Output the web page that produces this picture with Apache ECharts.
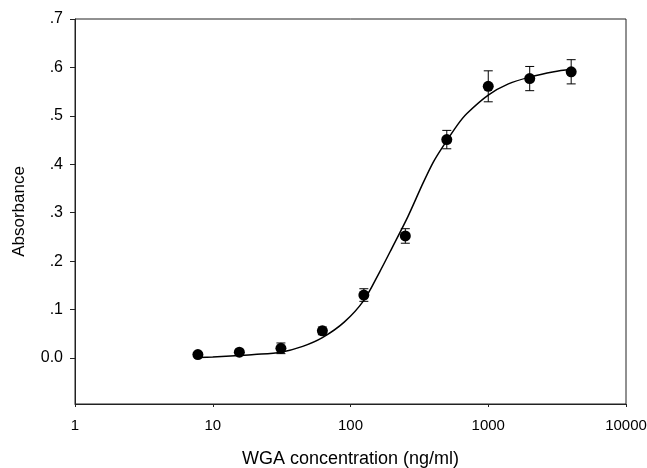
<!DOCTYPE html>
<html>
<head>
<meta charset="utf-8">
<script src="https://cdn.jsdelivr.net/npm/echarts@6/dist/echarts.min.js"></script>
<style>html,body{margin:0;padding:0;background:#fff;}#c{width:647px;height:468px;}</style>
</head>
<body>
<div id="c"></div>
<script>
var concentration = [7.8, 15.6, 31.25, 62.5, 125, 250, 500, 1000, 2000, 4000];
var absorbance = [0.007, 0.012, 0.020, 0.056, 0.130, 0.252, 0.451, 0.561, 0.577, 0.591];
var errorSD = [0, 0, 0.011, 0.008, 0.013, 0.015, 0.019, 0.032, 0.025, 0.025];
var curveX = [7.8, 10, 15.6, 20, 31.25, 45, 62.5, 90, 125, 163, 200, 261, 336, 400, 457, 600, 700, 1000, 1400, 2000, 3000, 4000];
var curveY = [0.001, 0.002, 0.005, 0.007, 0.012, 0.024, 0.042, 0.074, 0.119, 0.178, 0.227, 0.292, 0.361, 0.405, 0.432, 0.482, 0.505, 0.543, 0.566, 0.580, 0.591, 0.596];
var xTicks = [1, 10, 100, 1000, 10000];
var yTicks = [0, 0.1, 0.2, 0.3, 0.4, 0.5, 0.6, 0.7];
var yTickLabels = ['0.0', '.1', '.2', '.3', '.4', '.5', '.6', '.7'];

var font = 'Liberation Sans, Arial, sans-serif';
var chart = echarts.init(document.getElementById('c'));
var points = concentration.map(function (x, i) { return [x, absorbance[i]]; });
var errData = concentration.map(function (x, i) { return [x, absorbance[i] - errorSD[i], absorbance[i] + errorSD[i]]; })
  .filter(function (d, i) { return errorSD[i] > 0; });
var curve = curveX.map(function (x, i) { return [x, curveY[i]]; });

chart.setOption({
  animation: false,
  backgroundColor: '#fff',
  grid: { left: 75, right: 21, top: 19, bottom: 64, outerBoundsMode: 'none', containLabel: false, show: true, borderColor: '#222', borderWidth: 1, backgroundColor: 'transparent' },
  xAxis: {
    type: 'log', logBase: 10, min: 1, max: 10000,
    name: 'WGA concentration (ng/ml)', nameLocation: 'middle', nameGap: 46,
    nameTextStyle: { fontFamily: font, fontSize: 18, color: '#000' },
    axisLine: { show: true, onZero: false, lineStyle: { color: '#222', width: 1 } },
    axisTick: { show: true, inside: false, length: 3, lineStyle: { color: '#222' }, customValues: xTicks },
    axisLabel: { fontFamily: font, fontSize: 15, color: '#000', margin: 14, customValues: xTicks,
      formatter: function (v) { return String(Math.round(v)); } },
    minorTick: { show: false },
    splitLine: { show: false }
  },
  yAxis: {
    type: 'value', min: -0.095, max: 0.7,
    name: 'Absorbance', nameLocation: 'middle', nameGap: 47, nameRotate: 90,
    nameTextStyle: { fontFamily: font, fontSize: 17, color: '#000' },
    axisLine: { show: true, onZero: false, lineStyle: { color: '#222', width: 1 } },
    axisTick: { show: true, inside: false, length: 5, lineStyle: { color: '#222' }, customValues: yTicks },
    axisLabel: { fontFamily: font, fontSize: 16, color: '#000', margin: 12, customValues: yTicks,
      formatter: function (v) {
        var idx = yTicks.findIndex(function (t) { return Math.abs(t - v) < 1e-6; });
        return idx >= 0 ? yTickLabels[idx] : '';
      } },
    splitLine: { show: false }
  },
  series: [
    {
      type: 'line', data: curve, smooth: 0.3, showSymbol: false, symbol: 'none',
      lineStyle: { color: '#000', width: 1.5 }, z: 2
    },
    {
      type: 'custom', data: errData, z: 3,
      renderItem: function (params, api) {
        var x = api.value(0);
        var lo = api.coord([x, api.value(1)]);
        var hi = api.coord([x, api.value(2)]);
        var w = 4.5;
        var st = { stroke: '#000', lineWidth: 1 };
        return { type: 'group', children: [
          { type: 'line', shape: { x1: lo[0], y1: lo[1], x2: hi[0], y2: hi[1] }, style: st },
          { type: 'line', shape: { x1: lo[0] - w, y1: lo[1], x2: lo[0] + w, y2: lo[1] }, style: st },
          { type: 'line', shape: { x1: hi[0] - w, y1: hi[1], x2: hi[0] + w, y2: hi[1] }, style: st }
        ] };
      }
    },
    {
      type: 'scatter', data: points, symbol: 'circle', symbolSize: 11,
      itemStyle: { color: '#000', opacity: 1 }, z: 4
    }
  ]
});
</script>
</body>
</html>
